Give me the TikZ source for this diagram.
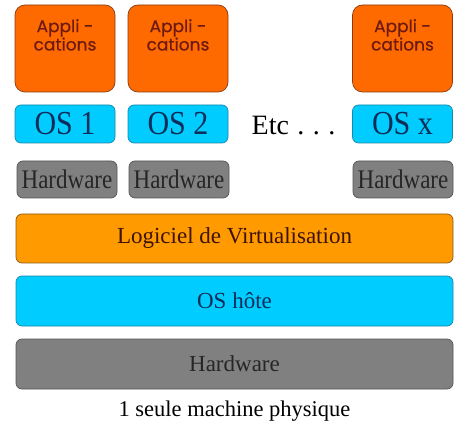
\documentclass[tikz,border=0pt]{standalone}
\usepackage{fontspec}
\setmainfont{Liberation Serif}
\newfontfamily\appfont{Poppins}[UprightFeatures={FakeBold=0.6}]
\usepackage{graphicx}
\usetikzlibrary{positioning}

\definecolor{appOrange}{HTML}{FF6A00}
\definecolor{appBorder}{HTML}{8A3A10}
\definecolor{appText}{HTML}{6E1A12}
\definecolor{virtOrange}{HTML}{FF9A00}
\definecolor{virtBorder}{HTML}{8A5A10}
\definecolor{virtText}{HTML}{3D1308}
\definecolor{osCyan}{HTML}{00CCFF}
\definecolor{osBorder}{HTML}{1B87A8}
\definecolor{osText}{HTML}{0D2E5A}
\definecolor{hwGrey}{HTML}{808080}
\definecolor{hwBorder}{HTML}{555555}

\begin{document}
\begin{tikzpicture}[x=1pt, y=-1pt,
    layer/.style={draw, line width=0.7pt, rounded corners=6pt, inner sep=0pt, outer sep=0pt},
    app/.style={layer, draw=appBorder, fill=appOrange, rounded corners=10pt, minimum width=100pt, minimum height=87pt},
    apptext/.style={anchor=north, yshift=-14pt, inner sep=0pt, align=center, text=appText, font=\appfont\fontsize{17}{16}\selectfont},
    guestos/.style={layer, draw=osBorder, fill=osCyan, minimum width=100pt, minimum height=38pt, text=osText, font=\fontsize{30}{30}\selectfont},
    guesthw/.style={layer, draw=hwBorder, fill=hwGrey, minimum width=100pt, minimum height=37pt, text=black!85, font=\fontsize{23}{23}\selectfont},
    bar/.style={layer, minimum width=437pt, minimum height=50pt, font=\fontsize{23}{23}\selectfont}]
    \useasboundingbox (0,0) rectangle (457,427);

    % Applications of each virtual machine
    \node[app, label={[apptext]north:{Appli -\\cations}}] (A1) at (65,48.5) {};
    \node[app, label={[apptext]north:{Appli -\\cations}}] (A2) at (178,48.5) {};
    \node[app, label={[apptext]north:{Appli -\\cations}}] (A3) at (402.5,48.5) {};

    % Guest systems
    \node[guestos] (OS1) at (65,124) {\scalebox{1}[1.12]{OS 1}};
    \node[guestos] (OS2) at (178,124) {\scalebox{1}[1.12]{OS 2}};
    \node[guestos] (OSx) at (402.5,124) {\scalebox{1}[1.12]{OS x}};
    \node[font=\fontsize{28}{28}\selectfont, inner sep=0pt] (etc) at (293.5,126) {Etc\hspace{0.3em}.\hspace{0.3em}.\hspace{0.3em}.};

    % Virtual hardware
    \node[guesthw] (H1) at (67,179.5) {\scalebox{1}[1.17]{Hardware}};
    \node[guesthw] (H2) at (179,179.5) {\scalebox{1}[1.17]{Hardware}};
    \node[guesthw] (H3) at (403,179.5) {\scalebox{1}[1.17]{Hardware}};

    % Host layers
    \node[bar, draw=virtBorder, fill=virtOrange, text=virtText, minimum height=49pt] (virt) at (234.5,238.5) {Logiciel de Virtualisation};
    \node[bar, draw=osBorder, fill=osCyan, text=osText] (host) at (234.5,301) {OS hôte};
    \node[bar, draw=hwBorder, fill=hwGrey, text=black!85] (hw) at (234.5,364) {Hardware};

    \node[below=12pt of hw, inner sep=0pt, font=\fontsize{22.5}{22.5}\selectfont] (caption) {1 seule machine physique};
\end{tikzpicture}
\end{document}
